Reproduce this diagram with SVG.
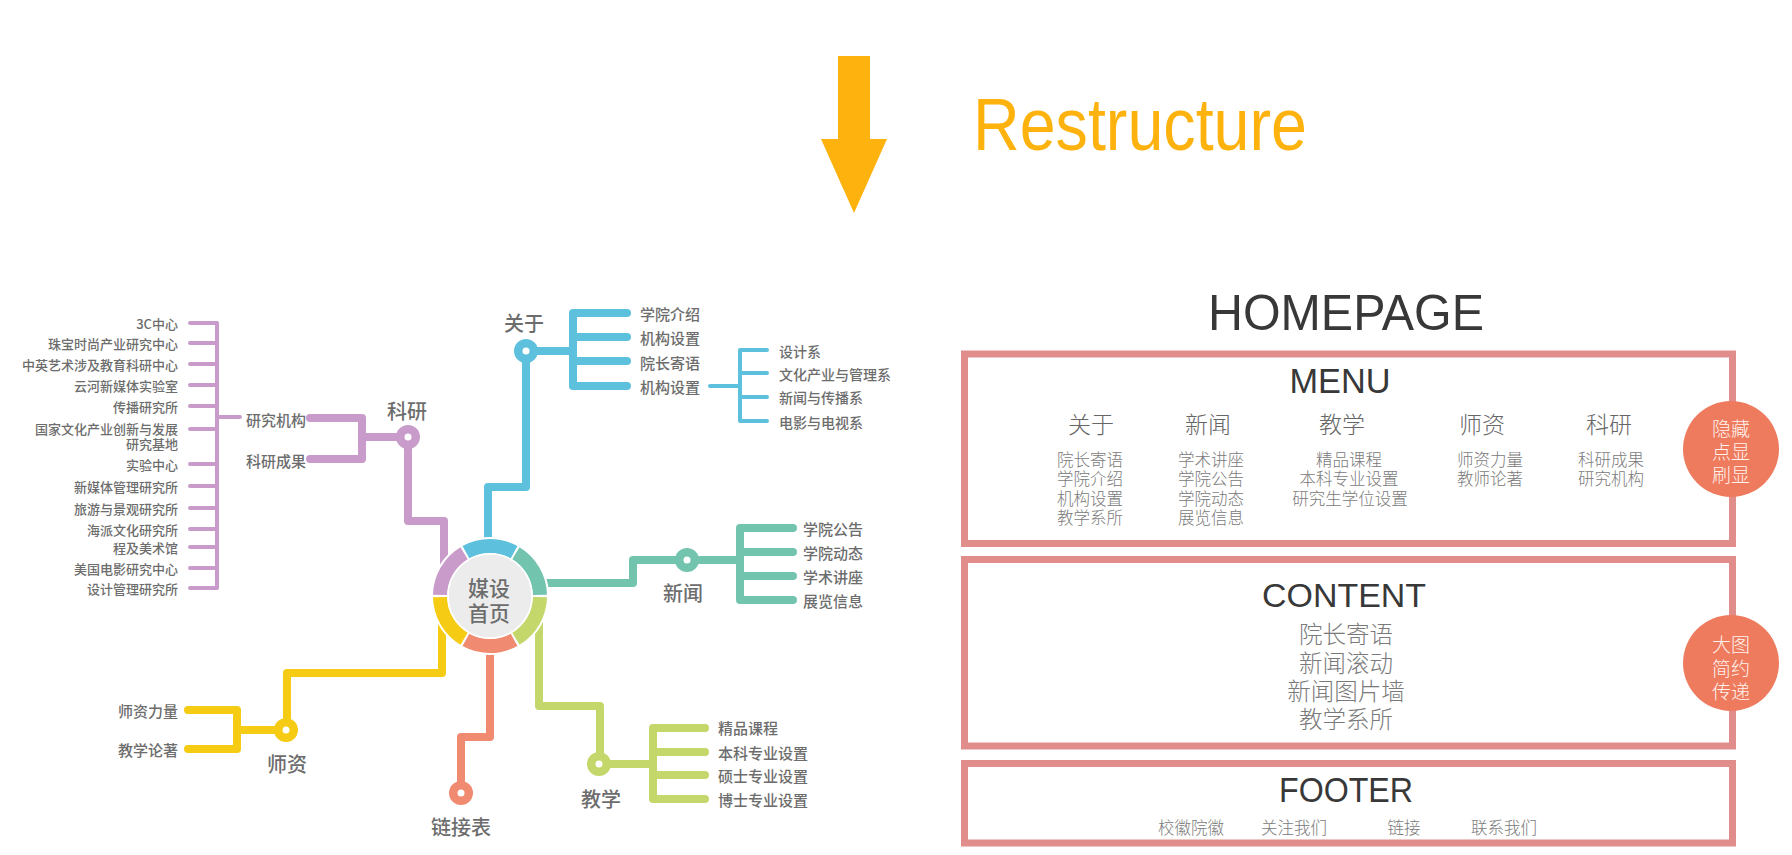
<svg xmlns="http://www.w3.org/2000/svg" width="1792" height="855" viewBox="0 0 1792 855">
<style>
.cn{font-family:"Noto Sans CJK SC","Noto Sans",sans-serif;dominant-baseline:central}
.mm{fill:#6d6d6d;font-weight:500}
.lbl{font-size:15px}
.big{font-size:20px;text-anchor:middle}
.sm{font-size:13px;text-anchor:end}
.sub{font-size:14px}
.th{fill:none;stroke-width:8;stroke-linecap:round;stroke-linejoin:round}
.tn{fill:none;stroke-width:4;stroke-linecap:round;stroke-linejoin:round}
.pu{stroke:#C99BCA}.bl{stroke:#5DC1DE}.te{stroke:#73C4AE}.gr{stroke:#C3D76B}.or{stroke:#F08A70}.ye{stroke:#F5CB14}
.box{fill:#fff;stroke:#E08D8B;stroke-width:7}
.en{font-family:"Liberation Sans",Arial,sans-serif;fill:#383838;text-anchor:middle}
.hp{fill:#666;font-weight:300;text-anchor:middle}
.it{fill:#7a7a7a;font-weight:300;text-anchor:middle;font-size:16.5px}
.badge{fill:#EE7B5E}
.bt{fill:#FFF3EE;font-size:19px;text-anchor:middle;font-weight:300}
.dot{fill:#fff}
</style>

<g id="restructure">
<polygon points="838,56 870,56 870,139 887,139 854,213 821,139 838,139" fill="#FDB20D"/>
<text x="973" y="150" font-family="Liberation Sans,Arial,sans-serif" font-size="74" fill="#FDB20D" textLength="334" lengthAdjust="spacingAndGlyphs">Restructure</text>
</g>

<g id="connectors">
<!-- purple -->
<path class="th pu" d="M444,566 V521 H408 V437"/>
<path class="th pu" d="M408,437 H362 M310,418 H362 V459 H310"/>
<path class="tn pu" d="M240,417 H217 M190,323 H217 V588 H190 M190,343 H217 M190,364 H217 M190,385 H217 M190,406 H217 M190,429 H217 M190,464 H217 M190,486 H217 M190,508 H217 M190,529 H217 M190,547 H217 M190,568 H217"/>
<!-- blue -->
<path class="th bl" d="M488,545 V487 H526 V351 H573"/>
<path class="th bl" d="M627,313 H573 V386 H627 M573,337 H627 M573,361 H627"/>
<path class="tn bl" d="M710,386 H740 M767,350 H740 V421 H767 M740,373 H767 M740,397 H767"/>
<!-- teal -->
<path class="th te" d="M542,583 H633 V560 H740"/>
<path class="th te" d="M793,528 H740 V600 H793 M740,552 H793 M740,576 H793"/>
<!-- green -->
<path class="th gr" d="M539,620 V706 H600 V764 H653"/>
<path class="th gr" d="M705,728 H653 V799 H705 M653,752 H705 M653,775 H705"/>
<!-- orange -->
<path class="th or" d="M490,648 V737 H461 V793"/>
<!-- yellow -->
<path class="th ye" d="M442,624 V673 H287 V730 H237"/>
<path class="th ye" d="M188,710 H237 V749 H188"/>
</g>

<g id="center">
<circle cx="490" cy="596" r="59" fill="#fff"/>
<path d="M440.01,594.95 A50,50 0 0 1 464.10,553.23" fill="none" stroke="#C99BCA" stroke-width="14"/>
<path d="M465.91,552.19 A50,50 0 0 1 514.09,552.19" fill="none" stroke="#5DC1DE" stroke-width="14"/>
<path d="M515.90,553.23 A50,50 0 0 1 539.99,594.95" fill="none" stroke="#73C4AE" stroke-width="14"/>
<path d="M539.99,597.05 A50,50 0 0 1 515.90,638.77" fill="none" stroke="#C3D76B" stroke-width="14"/>
<path d="M514.09,639.81 A50,50 0 0 1 465.91,639.81" fill="none" stroke="#F08A70" stroke-width="14"/>
<path d="M464.10,638.77 A50,50 0 0 1 440.01,597.05" fill="none" stroke="#F5CB14" stroke-width="14"/>
<circle cx="490" cy="596" r="42" fill="#ECECEC" stroke="#fff" stroke-width="1.5"/>
<text class="cn mm" x="489" y="587" font-size="21" text-anchor="middle">媒设</text>
<text class="cn mm" x="489" y="612" font-size="21" text-anchor="middle">首页</text>
</g>

<g id="node-keyan">
<circle cx="408" cy="437" r="12" fill="#C99BCA"/><circle class="dot" cx="408" cy="437" r="3.5"/>
<text class="cn mm big" x="407" y="410">科研</text>
<text class="cn mm lbl" x="306" y="419" text-anchor="end">研究机构</text>
<text class="cn mm lbl" x="306" y="460" text-anchor="end">科研成果</text>
<text class="cn mm sm" x="178" y="323">3C中心</text>
<text class="cn mm sm" x="178" y="343">珠宝时尚产业研究中心</text>
<text class="cn mm sm" x="178" y="364">中英艺术涉及教育科研中心</text>
<text class="cn mm sm" x="178" y="385">云河新媒体实验室</text>
<text class="cn mm sm" x="178" y="406">传播研究所</text>
<text class="cn mm sm" x="178" y="428">国家文化产业创新与发展</text>
<text class="cn mm sm" x="178" y="443">研究基地</text>
<text class="cn mm sm" x="178" y="464">实验中心</text>
<text class="cn mm sm" x="178" y="486">新媒体管理研究所</text>
<text class="cn mm sm" x="178" y="508">旅游与景观研究所</text>
<text class="cn mm sm" x="178" y="529">海派文化研究所</text>
<text class="cn mm sm" x="178" y="547">程及美术馆</text>
<text class="cn mm sm" x="178" y="568">美国电影研究中心</text>
<text class="cn mm sm" x="178" y="588">设计管理研究所</text>
</g>

<g id="node-guanyu">
<circle cx="526" cy="351" r="12" fill="#5DC1DE"/><circle class="dot" cx="526" cy="351" r="3.5"/>
<text class="cn mm big" x="524" y="322">关于</text>
<text class="cn mm lbl" x="640" y="313">学院介绍</text>
<text class="cn mm lbl" x="640" y="337">机构设置</text>
<text class="cn mm lbl" x="640" y="362">院长寄语</text>
<text class="cn mm lbl" x="640" y="386">机构设置</text>
<text class="cn mm sub" x="779" y="351">设计系</text>
<text class="cn mm sub" x="779" y="374">文化产业与管理系</text>
<text class="cn mm sub" x="779" y="397">新闻与传播系</text>
<text class="cn mm sub" x="779" y="422">电影与电视系</text>
</g>

<g id="node-xinwen">
<circle cx="687" cy="560" r="12" fill="#73C4AE"/><circle class="dot" cx="687" cy="560" r="3.5"/>
<text class="cn mm big" x="683" y="592">新闻</text>
<text class="cn mm lbl" x="803" y="528">学院公告</text>
<text class="cn mm lbl" x="803" y="552">学院动态</text>
<text class="cn mm lbl" x="803" y="576">学术讲座</text>
<text class="cn mm lbl" x="803" y="600">展览信息</text>
</g>

<g id="node-jiaoxue">
<circle cx="599" cy="764" r="12" fill="#C3D76B"/><circle class="dot" cx="599" cy="764" r="3.5"/>
<text class="cn mm big" x="601" y="798">教学</text>
<text class="cn mm lbl" x="718" y="727">精品课程</text>
<text class="cn mm lbl" x="718" y="752">本科专业设置</text>
<text class="cn mm lbl" x="718" y="775">硕士专业设置</text>
<text class="cn mm lbl" x="718" y="799">博士专业设置</text>
</g>

<g id="node-lianjie">
<circle cx="461" cy="793" r="12" fill="#F08A70"/><circle class="dot" cx="461" cy="793" r="3.5"/>
<text class="cn mm big" x="461" y="826">链接表</text>
</g>

<g id="node-shizi">
<circle cx="286" cy="730" r="12" fill="#F5CB14"/><circle class="dot" cx="286" cy="730" r="3.5"/>
<text class="cn mm big" x="287" y="763">师资</text>
<text class="cn mm lbl" x="178" y="710" text-anchor="end">师资力量</text>
<text class="cn mm lbl" x="178" y="749" text-anchor="end">教学论著</text>
</g>

<g id="homepage">
<text class="en" x="1346" y="330" font-size="50" textLength="276" lengthAdjust="spacingAndGlyphs">HOMEPAGE</text>
</g>

<g id="menu">
<rect class="box" x="964.5" y="354" width="768" height="189.5"/>
<text class="en" x="1340" y="393" font-size="35" textLength="101" lengthAdjust="spacingAndGlyphs">MENU</text>
<text class="cn hp" x="1091" y="423" font-size="23">关于</text>
<text class="cn hp" x="1208" y="423" font-size="23">新闻</text>
<text class="cn hp" x="1342" y="423" font-size="23">教学</text>
<text class="cn hp" x="1482" y="423" font-size="23">师资</text>
<text class="cn hp" x="1609" y="423" font-size="23">科研</text>
<text class="cn it" x="1090" y="459">院长寄语</text>
<text class="cn it" x="1090" y="478">学院介绍</text>
<text class="cn it" x="1090" y="498">机构设置</text>
<text class="cn it" x="1090" y="517">教学系所</text>
<text class="cn it" x="1211" y="459">学术讲座</text>
<text class="cn it" x="1211" y="478">学院公告</text>
<text class="cn it" x="1211" y="498">学院动态</text>
<text class="cn it" x="1211" y="517">展览信息</text>
<text class="cn it" x="1349" y="459">精品课程</text>
<text class="cn it" x="1349" y="478">本科专业设置</text>
<text class="cn it" x="1350" y="498">研究生学位设置</text>
<text class="cn it" x="1490" y="459">师资力量</text>
<text class="cn it" x="1490" y="478">教师论著</text>
<text class="cn it" x="1611" y="459">科研成果</text>
<text class="cn it" x="1611" y="478">研究机构</text>
</g>

<g id="content">
<rect class="box" x="964.5" y="559.5" width="768" height="186.5"/>
<text class="en" x="1344" y="607" font-size="34" textLength="164" lengthAdjust="spacingAndGlyphs">CONTENT</text>
<text class="cn it" x="1346" y="633" style="font-size:23.5px">院长寄语</text>
<text class="cn it" x="1346" y="662" style="font-size:23.5px">新闻滚动</text>
<text class="cn it" x="1346" y="690" style="font-size:23.5px">新闻图片墙</text>
<text class="cn it" x="1346" y="718" style="font-size:23.5px">教学系所</text>
</g>

<g id="footer">
<rect class="box" x="964.5" y="763.5" width="768" height="79.5"/>
<text class="en" x="1346" y="802" font-size="35" textLength="134" lengthAdjust="spacingAndGlyphs">FOOTER</text>
<text class="cn it" x="1191" y="827">校徽院徽</text>
<text class="cn it" x="1294" y="827">关注我们</text>
<text class="cn it" x="1404" y="827">链接</text>
<text class="cn it" x="1504" y="827">联系我们</text>
</g>

<g id="badge-menu">
<circle class="badge" cx="1731" cy="449" r="48"/>
<text class="cn bt" x="1731" y="427">隐藏</text>
<text class="cn bt" x="1731" y="450">点显</text>
<text class="cn bt" x="1731" y="473">刷显</text>
</g>

<g id="badge-content">
<circle class="badge" cx="1731" cy="663" r="48"/>
<text class="cn bt" x="1731" y="643">大图</text>
<text class="cn bt" x="1731" y="667">简约</text>
<text class="cn bt" x="1731" y="690">传递</text>
</g>
</svg>
